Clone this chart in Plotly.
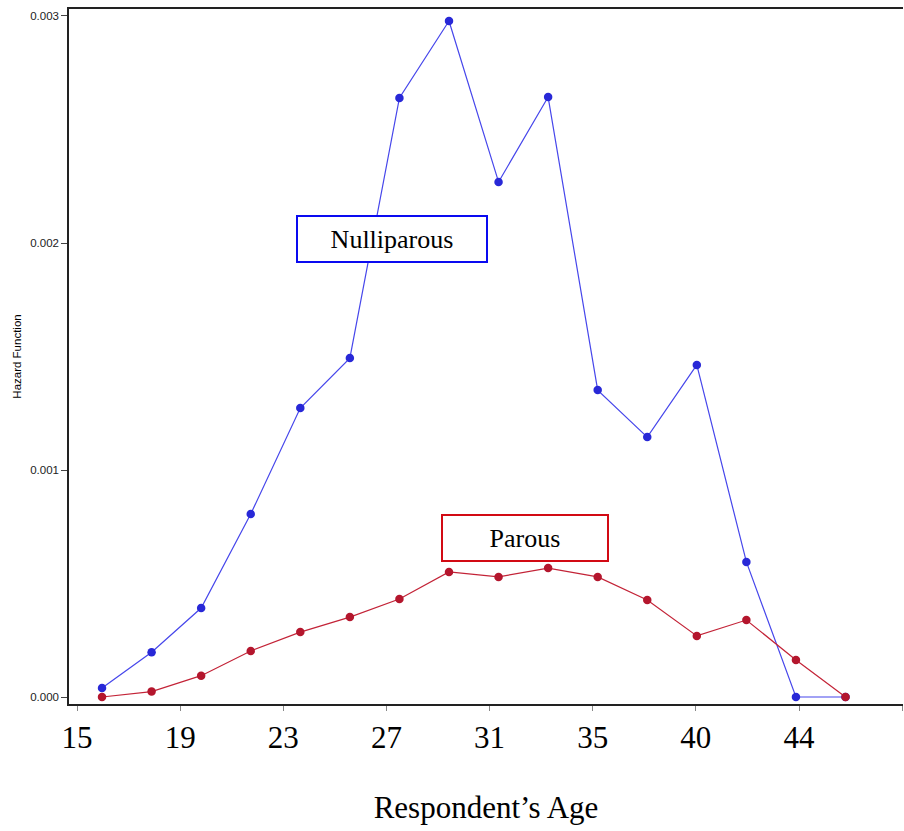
import plotly.graph_objects as go

# Data
ages = [16, 18, 20, 22, 24, 26, 28, 30, 32, 34, 36, 38, 40, 42, 44, 46]
nulliparous = [0.00004, 0.000197, 0.000392, 0.000806, 0.001273, 0.001493, 0.002639,
               0.002978, 0.002269, 0.002643, 0.001352, 0.001145, 0.001463, 0.000595,
               0.0, 0.0]
parous = [0.0, 0.000024, 0.000094, 0.000203, 0.000286, 0.000352, 0.000432, 0.000551,
          0.000529, 0.000568, 0.000529, 0.000427, 0.000269, 0.000339, 0.000163, 0.0]

x_tick_labels = ["15", "19", "23", "27", "31", "35", "40", "44", ""]
x_tick_start = 14.99
x_tick_step = 4.162
x_tick_vals = [x_tick_start + x_tick_step * k for k in range(len(x_tick_labels))]

y_tick_vals = [0.0, 0.001, 0.002, 0.003]
y_tick_labels = ["0.000", "0.001", "0.002", "0.003"]

fig = go.Figure()
fig.add_trace(go.Scatter(
    x=ages, y=nulliparous, mode="lines+markers", name="Nulliparous",
    line=dict(color="rgb(70,70,235)", width=1.2),
    marker=dict(color="rgb(40,40,215)", size=8.5),
))
fig.add_trace(go.Scatter(
    x=ages, y=parous, mode="lines+markers", name="Parous",
    line=dict(color="rgb(195,35,55)", width=1.2),
    marker=dict(color="rgb(180,22,45)", size=8.5),
))

fig.add_annotation(
    x=27.72, y=0.002018, xref="x", yref="y", text="Nulliparous", showarrow=False,
    font=dict(family="Liberation Serif, Times New Roman, serif", size=26, color="black"),
    bordercolor="rgb(10,10,240)", borderwidth=2, borderpad=0,
    width=188, height=44, bgcolor="white", xanchor="center", yanchor="middle",
)
fig.add_annotation(
    x=33.05, y=0.0007, xref="x", yref="y", text="Parous", showarrow=False,
    font=dict(family="Liberation Serif, Times New Roman, serif", size=26, color="black"),
    bordercolor="rgb(210,10,20)", borderwidth=2, borderpad=0,
    width=164, height=44, bgcolor="white", xanchor="center", yanchor="middle",
)

fig.update_layout(
    width=904, height=831,
    margin=dict(l=69, r=1, t=9, b=127),
    plot_bgcolor="white", paper_bgcolor="white",
    showlegend=False,
    xaxis=dict(
        range=[14.667, 48.32], tickmode="array", tickvals=x_tick_vals, ticktext=x_tick_labels,
        ticks="outside", ticklen=5, tickcolor="#888", tickwidth=1,
        showline=True, linecolor="#222", linewidth=1.5, mirror=True,
        showgrid=False, zeroline=False, automargin=False,
        tickfont=dict(family="Liberation Serif, Times New Roman, serif", size=31, color="black"),
        title=dict(text="Respondent\u2019s Age", standoff=42,
                   font=dict(family="Liberation Serif, Times New Roman, serif", size=31, color="black")),
    ),
    yaxis=dict(
        range=[-0.0000308, 0.0030308], tickmode="array", tickvals=y_tick_vals, ticktext=y_tick_labels,
        ticks="outside", ticklen=6, tickcolor="#444", tickwidth=1,
        showline=True, linecolor="#222", linewidth=1.5,
        showgrid=False, zeroline=False, automargin=False,
        tickfont=dict(family="Liberation Sans, Arial, sans-serif", size=11.5, color="#222"),
        title=dict(text="Hazard Function", standoff=6,
                   font=dict(family="Liberation Sans, Arial, sans-serif", size=11.5, color="black")),
    ),
)

# Remove the browser's default 8px body margin so the figure fills the window exactly.
fig.write_html("out.html",
               config={"displayModeBar": False},
               post_script="document.body.style.margin='0';document.body.style.overflow='hidden';")
